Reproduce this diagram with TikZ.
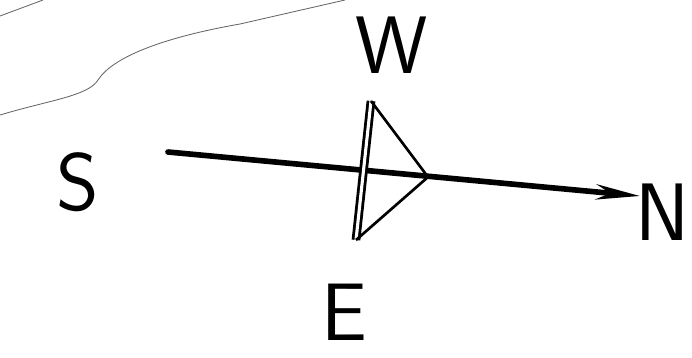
\documentclass[tikz,border=0pt]{standalone}
\usepackage{xcolor}
\usepackage{tikz}
\usetikzlibrary{arrows.meta, positioning, calc}

\begin{document}
\begin{tikzpicture}[
        x=0.025cm, y=-0.025cm,
        pole/.style={font=\sffamily\fontsize{58}{58}\selectfont, inner sep=0pt},
        wire/.style={line width=4pt, line cap=round},
        arrow/.style={wire, -{Stealth[length=1.1cm, width=0.38cm]}},
        bar/.style={line width=2pt, double, double distance=2.2pt},
        tri/.style={line width=1.9pt, line join=round},
        sketch/.style={black!60, line width=0.6pt}
    ]
        \useasboundingbox (0,0) rectangle (692,357);

        % Polos
        \node[pole] (s) at (78,182) {S};
        \node[pole] (w) at (392,45) {W};
        \node[pole] (e) at (344,312) {E};
        \node[pole, anchor=east] (n) at (690,212) {N};

        % Pontos do diodo
        \coordinate (tail) at (168,152);
        \coordinate (head) at (640,196);
        \coordinate (bartop) at (371,101);
        \coordinate (barbot) at (356,240);
        \coordinate (tip) at (428,177);

        % Seta e diodo
        \draw[arrow] (tail) -- (head);
        \draw[bar] (bartop) -- (barbot);
        \draw[tri] (bartop) -- (tip) -- (barbot);

        % Traço de fundo
        \draw[sketch] (0,115) .. controls (50,100) and (88,96) .. (98,80)
            .. controls (112,58) and (160,38) .. (240,24) -- (345,0);
        \draw[sketch] (0,16) -- (43,0);

    \end{tikzpicture}
\end{document}
